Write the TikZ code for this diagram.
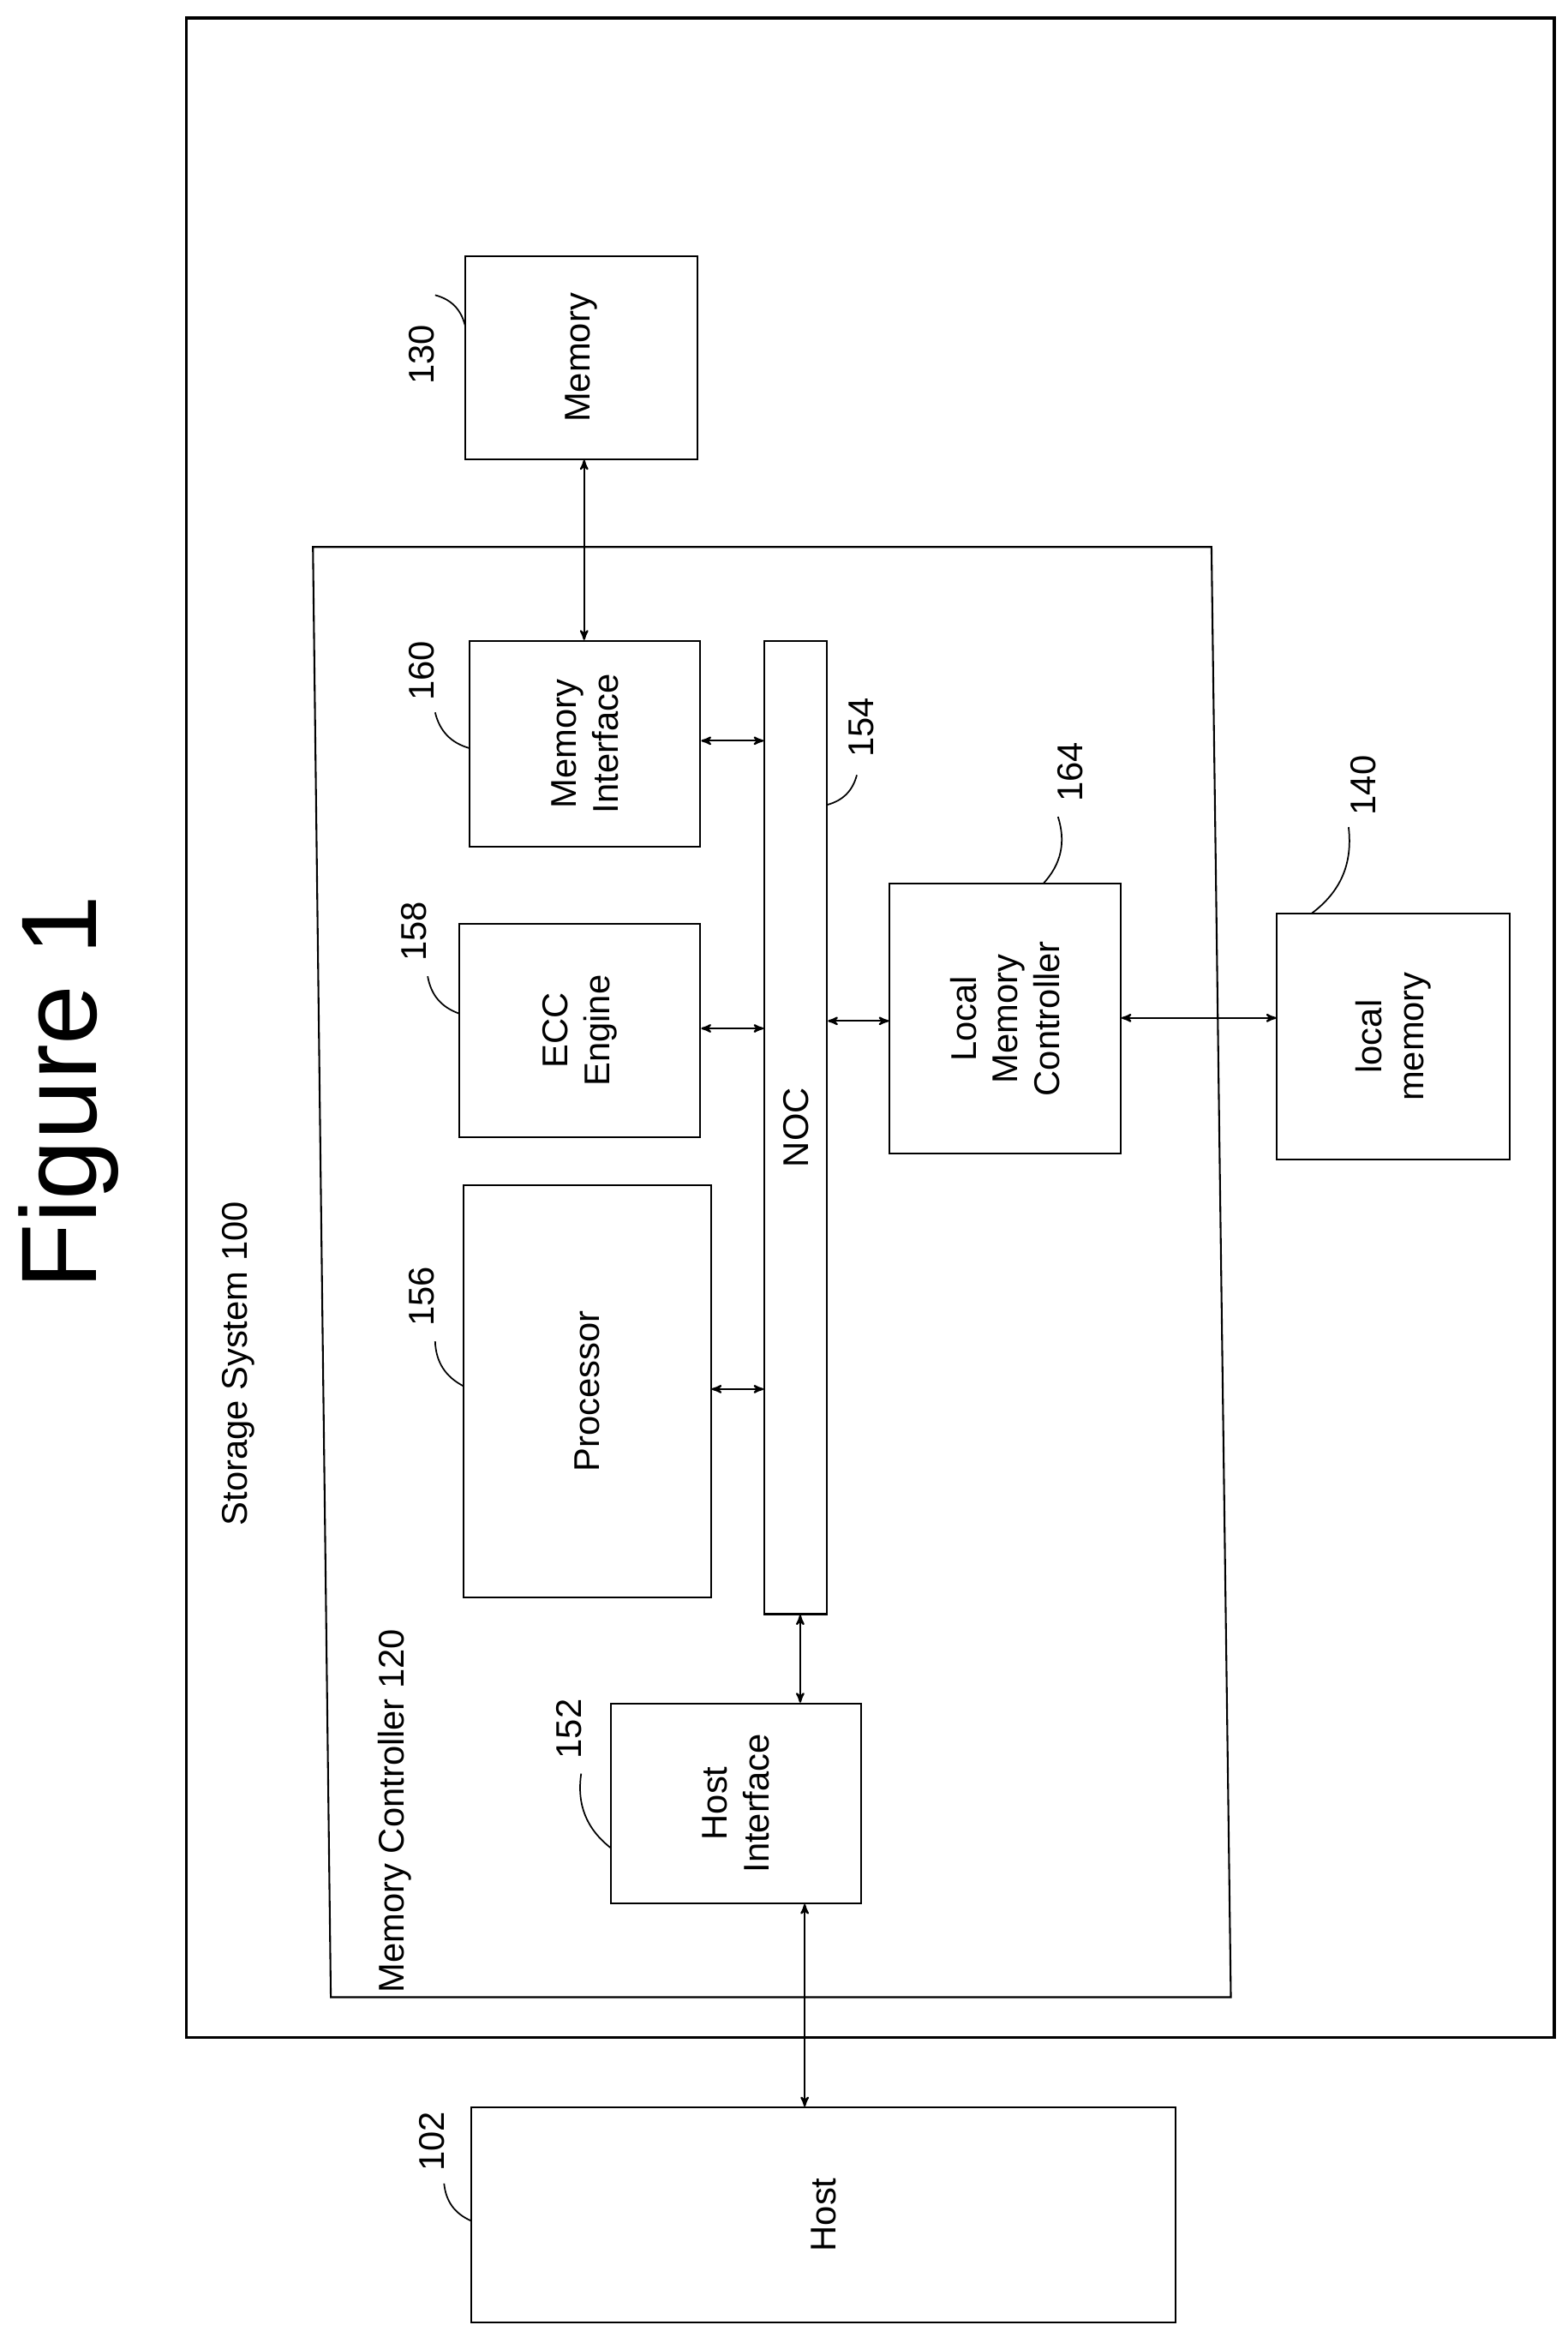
\documentclass[tikz,border=0pt]{standalone}
\usepackage{fontspec}
\setmainfont{Liberation Sans}
\usetikzlibrary{arrows,positioning}
\tikzset{>=stealth',
  box/.style={draw,line width=1.2pt,inner sep=0pt},
  txt/.style={rotate=90,align=center,font=\fontsize{24}{28}\selectfont},
  link/.style={<->,line width=1.3pt},
  lead/.style={line width=1pt}}
\begin{document}
\begin{tikzpicture}[x=1pt,y=-1pt]
  \useasboundingbox (0,0) rectangle (1052,1564);
  \node[rotate=90,font=\fontsize{72}{80}\selectfont] (fig) at (46,733) {Figure 1};
  % outer boxes
  \draw[line width=2pt] (125,12) rectangle (1043,1367);
  \draw[line width=1.2pt] (210,367) -- (813,367) -- (826,1340) -- (222,1340) -- cycle;
  \node[txt] (sys) at (160,915) {Storage System 100};
  \node[txt] (mcl) at (265,1215) {Memory Controller 120};
  % blocks
  \node[box,minimum width=156,minimum height=136] (mem) at (390,240) {};
  \node[txt] at (mem) {Memory};
  \node[box,minimum width=155,minimum height=138] (mif) at (392.5,499) {};
  \node[txt] at (mif) {Memory\\Interface};
  \node[box,minimum width=162,minimum height=143] (ecc) at (389,691.5) {};
  \node[txt] at (ecc) {ECC\\Engine};
  \node[box,minimum width=166,minimum height=277] (proc) at (394,933.5) {};
  \node[txt] at (proc) {Processor};
  \node[box,minimum width=42,minimum height=653] (noc) at (534,756.5) {};
  \node[txt] at (noc) {NOC};
  \node[box,minimum width=168,minimum height=134] (hif) at (494,1210) {};
  \node[txt] at (hif) {Host\\Interface};
  \node[box,minimum width=155,minimum height=181] (lmc) at (674.5,683.5) {};
  \node[txt] at (lmc) {Local\\Memory\\Controller};
  \node[box,minimum width=156,minimum height=165] (lmem) at (935,695.5) {};
  \node[txt] at (lmem) {local\\memory};
  \node[box,minimum width=473,minimum height=144] (host) at (552.5,1486) {};
  \node[txt] at (host) {Host};
  % connectors
  \draw[link] (mem.south -| 392,0) -- (mif.north -| 392,0);
  \draw[link] (mif.east |- 0,497) -- (noc.west |- 0,497);
  \draw[link] (ecc.east |- 0,690) -- (noc.west |- 0,690);
  \draw[link] (proc.east |- 0,932) -- (noc.west |- 0,932);
  \draw[link] (noc.south -| 537,0) -- (hif.north -| 537,0);
  \draw[link] (noc.east |- 0,685) -- (lmc.west |- 0,685);
  \draw[link] (lmc.east |- 0,683) -- (lmem.west |- 0,683);
  \draw[link] (hif.south -| 540,0) -- (host.north -| 540,0);
  % reference numbers
  \node[txt] (n130) at (283,238) {130};
  \draw[lead] (292,198) to[bend left=30] (312,218);
  \node[txt] (n160) at (283,450) {160};
  \draw[lead] (292,478) to[bend right=30] (315,502);
  \node[txt] (n158) at (278,625) {158};
  \draw[lead] (287,655) to[bend right=30] (308,680);
  \node[txt] (n156) at (283,870) {156};
  \draw[lead] (292,900) to[bend right=30] (311,930);
  \node[txt] (n152) at (382,1160) {152};
  \draw[lead] (390,1190) to[bend right=30] (410,1240);
  \node[txt] (n154) at (578,488) {154};
  \draw[lead] (575,520) to[bend left=30] (555,540);
  \node[txt] (n164) at (718,518) {164};
  \draw[lead] (710,548) to[bend left=30] (700,593);
  \node[txt] (n140) at (915,527) {140};
  \draw[lead] (905,555) to[bend left=30] (880,613);
  \node[txt] (n102) at (290,1437) {102};
  \draw[lead] (298,1465) to[bend right=30] (316,1490);
\end{tikzpicture}
\end{document}
